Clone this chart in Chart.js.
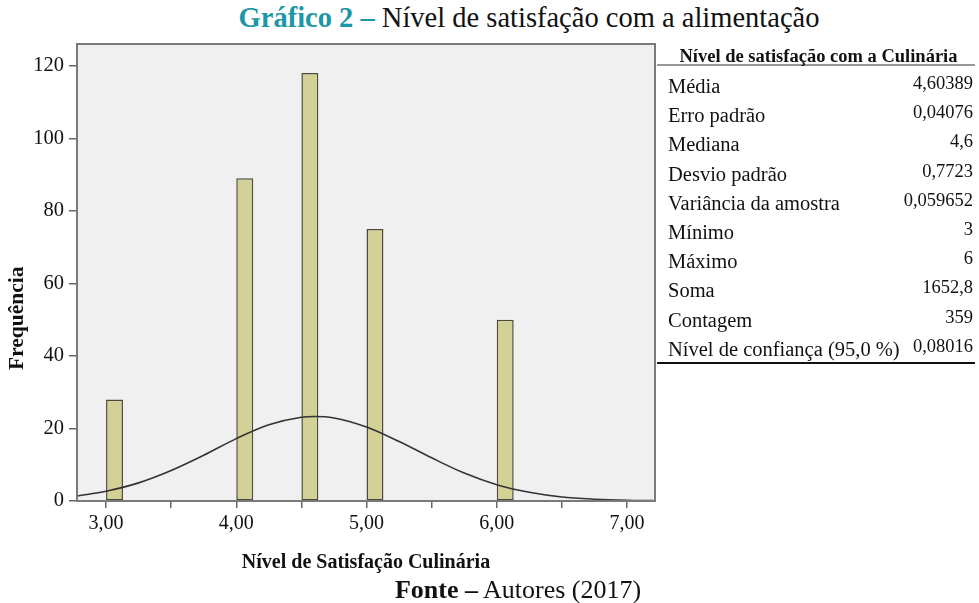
<!DOCTYPE html>
<html>
<head>
<meta charset="utf-8">
<script src="https://cdn.jsdelivr.net/npm/chart.js@4"></script>
<style>
  body { margin: 0; width: 979px; height: 603px; background: #fff; position: relative; overflow: hidden; font-family: "Liberation Serif", serif; }
  #chart { position: absolute; left: 0; top: 0; }
  #title { position: absolute; top: 2px; left: 529px; transform: translateX(-50%); white-space: nowrap; font-size: 28.5px; color: #111; }
  #title b { color: #1c97a8; }
  #fonte { position: absolute; top: 575px; left: 518px; transform: translateX(-50%); white-space: nowrap; font-size: 26px; color: #111; }
  #stats { position: absolute; left: 657px; top: 45px; width: 316px; color: #111; }
  #stats .head { font-weight: bold; font-size: 18.5px; text-align: center; height: 19px; line-height: 23px; border-bottom: 2px solid #999; padding-left: 5px; margin-right: -2px; margin-bottom: 6px; }
  #stats .row { display: flex; justify-content: space-between; height: 29.2px; line-height: 29.2px; font-size: 20.5px; padding-left: 11px; }
  #stats .row span.v { font-size: 18.5px; position: relative; top: -3px; }
  #stats .row.last { height: 27px; border-bottom: 2px solid #111; margin-right: -2px; padding-right: 2px; }
</style>
</head>
<body>
<div id="title"><b>Gráfico 2 –</b> Nível de satisfação com a alimentação</div>
<canvas id="chart" width="979" height="603"></canvas>
<div id="stats"></div>
<div id="fonte"><b>Fonte –</b> Autores (2017)</div>
<script>
// histogram bins (start of each bin) and frequencies
const binStarts = [3.0, 4.0, 4.5, 5.0, 6.0];
const frequencies = [28, 89, 118, 75, 50];
const binWidth = 0.13;

// normal curve
const curveX = [2.78, 3.0, 3.25, 3.5, 3.75, 4.0, 4.25, 4.5, 4.6, 4.75, 5.0, 5.25, 5.5, 5.75, 6.0, 6.25, 6.5, 6.75, 7.0, 7.2];
const curveY = [1.4, 2.7, 5.0, 8.4, 12.6, 17.2, 21.0, 23.1, 23.3, 22.9, 20.4, 16.4, 11.9, 7.7, 4.5, 2.4, 1.1, 0.5, 0.2, 0.1];

const xTicks = [3, 3.5, 4, 4.5, 5, 5.5, 6, 6.5, 7];
const yTicks = [0, 20, 40, 60, 80, 100, 120];

const statLabels = ['Média', 'Erro padrão', 'Mediana', 'Desvio padrão', 'Variância da amostra', 'Mínimo', 'Máximo', 'Soma', 'Contagem', 'Nível de confiança (95,0 %)'];
const statValues = ['4,60389', '0,04076', '4,6', '0,7723', '0,059652', '3', '6', '1652,8', '359', '0,08016'];

// stats table
let html = '<div class="head">Nível de satisfação com a Culinária</div>';
statLabels.forEach((l, i) => {
  const last = i === statLabels.length - 1 ? ' last' : '';
  html += '<div class="row' + last + '"><span>' + l + '</span><span class="v">' + statValues[i] + '</span></div>';
});
document.getElementById('stats').innerHTML = html;

const frame = {
  id: 'frame',
  beforeDraw(chart) {
    const a = chart.chartArea, ctx = chart.ctx;
    ctx.save();
    ctx.fillStyle = '#f0f0f0';
    ctx.fillRect(a.left, a.top, a.right - a.left, a.bottom - a.top);
    ctx.restore();
  },
  afterDraw(chart) {
    const a = chart.chartArea, ctx = chart.ctx;
    ctx.save();
    ctx.strokeStyle = '#7a7a7a';
    ctx.lineWidth = 2;
    ctx.strokeRect(a.left, a.top, a.right - a.left, a.bottom - a.top);
    // y title
    ctx.translate(17, a.top + (a.bottom - a.top) * 0.6);
    ctx.rotate(-Math.PI / 2);
    ctx.fillStyle = '#111';
    ctx.font = 'bold 21.5px "Liberation Serif"';
    ctx.textAlign = 'center';
    ctx.textBaseline = 'middle';
    ctx.fillText('Frequência', 0, 0);
    ctx.restore();
  }
};

new Chart(document.getElementById('chart'), {
  type: 'bar',
  data: {
    datasets: [
      {
        type: 'line',
        data: curveX.map((x, i) => ({ x: x, y: curveY[i] })),
        borderColor: '#333',
        borderWidth: 1.6,
        pointRadius: 0,
        cubicInterpolationMode: 'monotone',
        order: 0
      },
      {
        type: 'bar',
        data: binStarts.map((s, i) => ({ x: s + binWidth / 2, y: frequencies[i] })),
        backgroundColor: '#d4d197',
        borderColor: '#4d4b3c',
        borderWidth: 1.5,
        borderSkipped: false,
        categoryPercentage: 1,
        barPercentage: binWidth / 0.5,
        order: 1
      }
    ]
  },
  options: {
    responsive: false,
    animation: false,
    layout: { padding: { left: 0, top: 44, right: 324, bottom: 28 } },
    plugins: { legend: { display: false }, tooltip: { enabled: false } },
    scales: {
      x: {
        type: 'linear',
        offset: false,
        min: 2.777,
        max: 7.215,
        afterBuildTicks: s => { s.ticks = xTicks.map(v => ({ value: v })); },
        afterFit: s => { s.height = 74; },
        grid: { offset: false, drawOnChartArea: false, tickLength: 7, color: '#666', lineWidth: 1.5 },
        border: { color: '#555', width: 2 },
        ticks: {
          padding: 4,
          color: '#111',
          font: { family: 'Liberation Serif', size: 20 },
          maxRotation: 0,
          autoSkip: false,
          callback: v => Number.isInteger(v) ? v.toFixed(2).replace('.', ',') : ''
        },
        title: {
          display: true,
          text: 'Nível de Satisfação Culinária',
          color: '#111',
          font: { family: 'Liberation Serif', size: 20, weight: 'bold' },
          padding: { top: 6, bottom: 0 }
        }
      },
      y: {
        min: 0,
        max: 126,
        afterBuildTicks: s => { s.ticks = yTicks.map(v => ({ value: v })); },
        afterFit: s => { s.width = 77; },
        grid: { drawOnChartArea: false, tickLength: 8, color: '#666', lineWidth: 1.5 },
        border: { color: '#555', width: 2 },
        ticks: {
          padding: 5,
          color: '#111',
          font: { family: 'Liberation Serif', size: 20.5 }
        }
      }
    }
  },
  plugins: [frame]
});
</script>
</body>
</html>
